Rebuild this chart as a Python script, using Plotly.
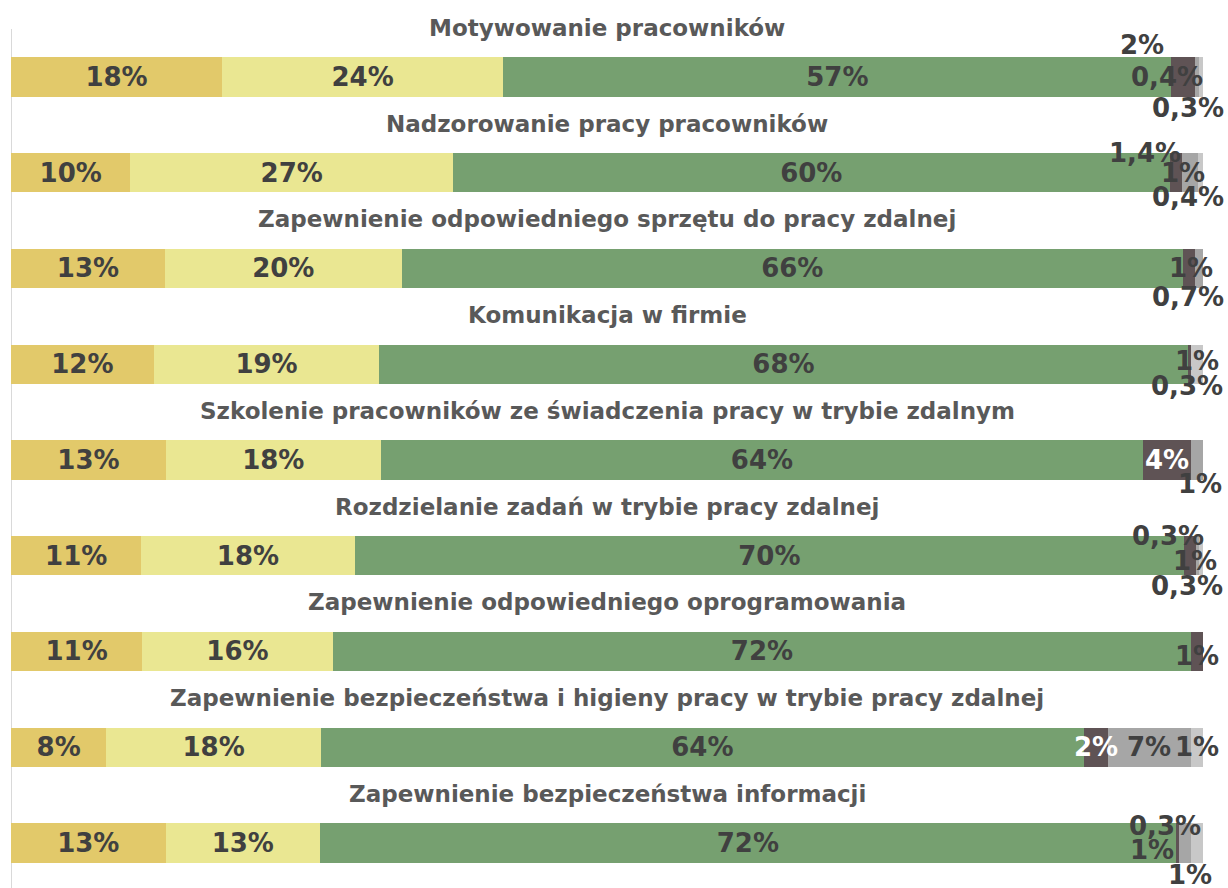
import plotly.graph_objects as go

# Survey topics (one stacked bar each, top to bottom)
categories = [
    "Motywowanie pracowników",
    "Nadzorowanie pracy pracowników",
    "Zapewnienie odpowiedniego sprzętu do pracy zdalnej",
    "Komunikacja w firmie",
    "Szkolenie pracowników ze świadczenia pracy w trybie zdalnym",
    "Rozdzielanie zadań w trybie pracy zdalnej",
    "Zapewnienie odpowiedniego oprogramowania",
    "Zapewnienie bezpieczeństwa i higieny pracy w trybie pracy zdalnej",
    "Zapewnienie bezpieczeństwa informacji",
]

# Answer shares in percent, one list per response group
seg1 = [18, 10, 13, 12, 13, 11, 11, 8, 13]
seg2 = [24, 27, 20, 19, 18, 18, 16, 18, 13]
seg3 = [57, 60, 66, 68, 64, 70, 72, 64, 72]
seg4 = [2, 1, 1, 0.3, 4, 1, 1, 2, 0.3]
seg5 = [0.4, 1.4, 0.7, 0, 1, 0.3, 0, 7, 1]
seg6 = [0.3, 0.4, 0, 1, 0, 0.3, 0, 1, 1]

series = [seg1, seg2, seg3, seg4, seg5, seg6]
colors = ["#E2C96A", "#EAE792", "#76A070", "#5F5355", "#A6A6A6", "#C8C8C8"]

# Label placement for the narrow segments: (row, series index, dx px, dy px, white text)
small_labels = [
    (0, 3, -41, -32, False), (0, 4, -30, 0, False), (0, 5, -13, 31, False),
    (1, 4, -45, -20, False), (1, 3, 7, 0, False), (1, 5, -13, 24, False),
    (2, 3, 2, 0, False), (2, 4, -11, 29, False),
    (3, 5, 0, -3, False), (3, 3, -2, 22, False),
    (4, 3, 0, 0, True), (4, 4, 3, 24, False),
    (5, 4, -30, -20, False), (5, 3, 5, 5, False), (5, 5, -14, 30, False),
    (6, 3, 0, 5, False),
    (7, 3, 0, 0, True), (7, 4, 0, 0, False), (7, 5, 0, 0, False),
    (8, 3, -12, -17, False), (8, 4, -33, 7, False), (8, 5, -7, 32, False),
]

FONT = "DejaVu Sans"
TXT = "#404040"


def fmt(v):
    return f"{v:g}".replace(".", ",") + "%"


rows = list(range(len(categories)))
fig = go.Figure()
for k, vals in enumerate(series):
    text = [fmt(v) if k < 3 else "" for v in vals]
    fig.add_trace(go.Bar(
        x=vals, y=rows, orientation="h", width=0.41,
        marker=dict(color=colors[k], line=dict(width=0)),
        text=text, textposition="inside", insidetextanchor="middle",
        textfont=dict(family=FONT, size=26, color=TXT, weight="bold"),
        constraintext="none", hoverinfo="skip", showlegend=False,
    ))

annotations = []
# Titles above each bar
for i, name in enumerate(categories):
    annotations.append(dict(
        x=50, y=i, xref="x", yref="y", text=name, showarrow=False,
        yshift=49, font=dict(family=FONT, size=23, color="#595959", weight="bold"),
    ))

# Labels for the narrow segments, anchored at each segment's centre
for r, k, dx, dy, white in small_labels:
    total = sum(s[r] for s in series)
    before = sum(series[j][r] for j in range(k))
    center = (before + series[k][r] / 2) / total * 100
    annotations.append(dict(
        x=center, y=r, xref="x", yref="y", text=fmt(series[k][r]), showarrow=False,
        xshift=dx, yshift=-dy,
        font=dict(family=FONT, size=26, color="white" if white else TXT, weight="bold"),
    ))

fig.update_layout(
    barmode="stack", barnorm="percent",
    width=1228, height=888,
    margin=dict(l=11, r=25, t=0, b=0),
    paper_bgcolor="white", plot_bgcolor="white",
    xaxis=dict(range=[0, 100], visible=False, fixedrange=True),
    yaxis=dict(range=[8.47, -0.804], visible=False, fixedrange=True),
    annotations=annotations,
    shapes=[dict(type="line", xref="x", yref="y", x0=0, x1=0, y0=-0.5, y1=8.47,
                 line=dict(color="#D9D9D9", width=2), layer="below")],
    uniformtext=dict(mode=False),
)

fig.write_html("out.html")
